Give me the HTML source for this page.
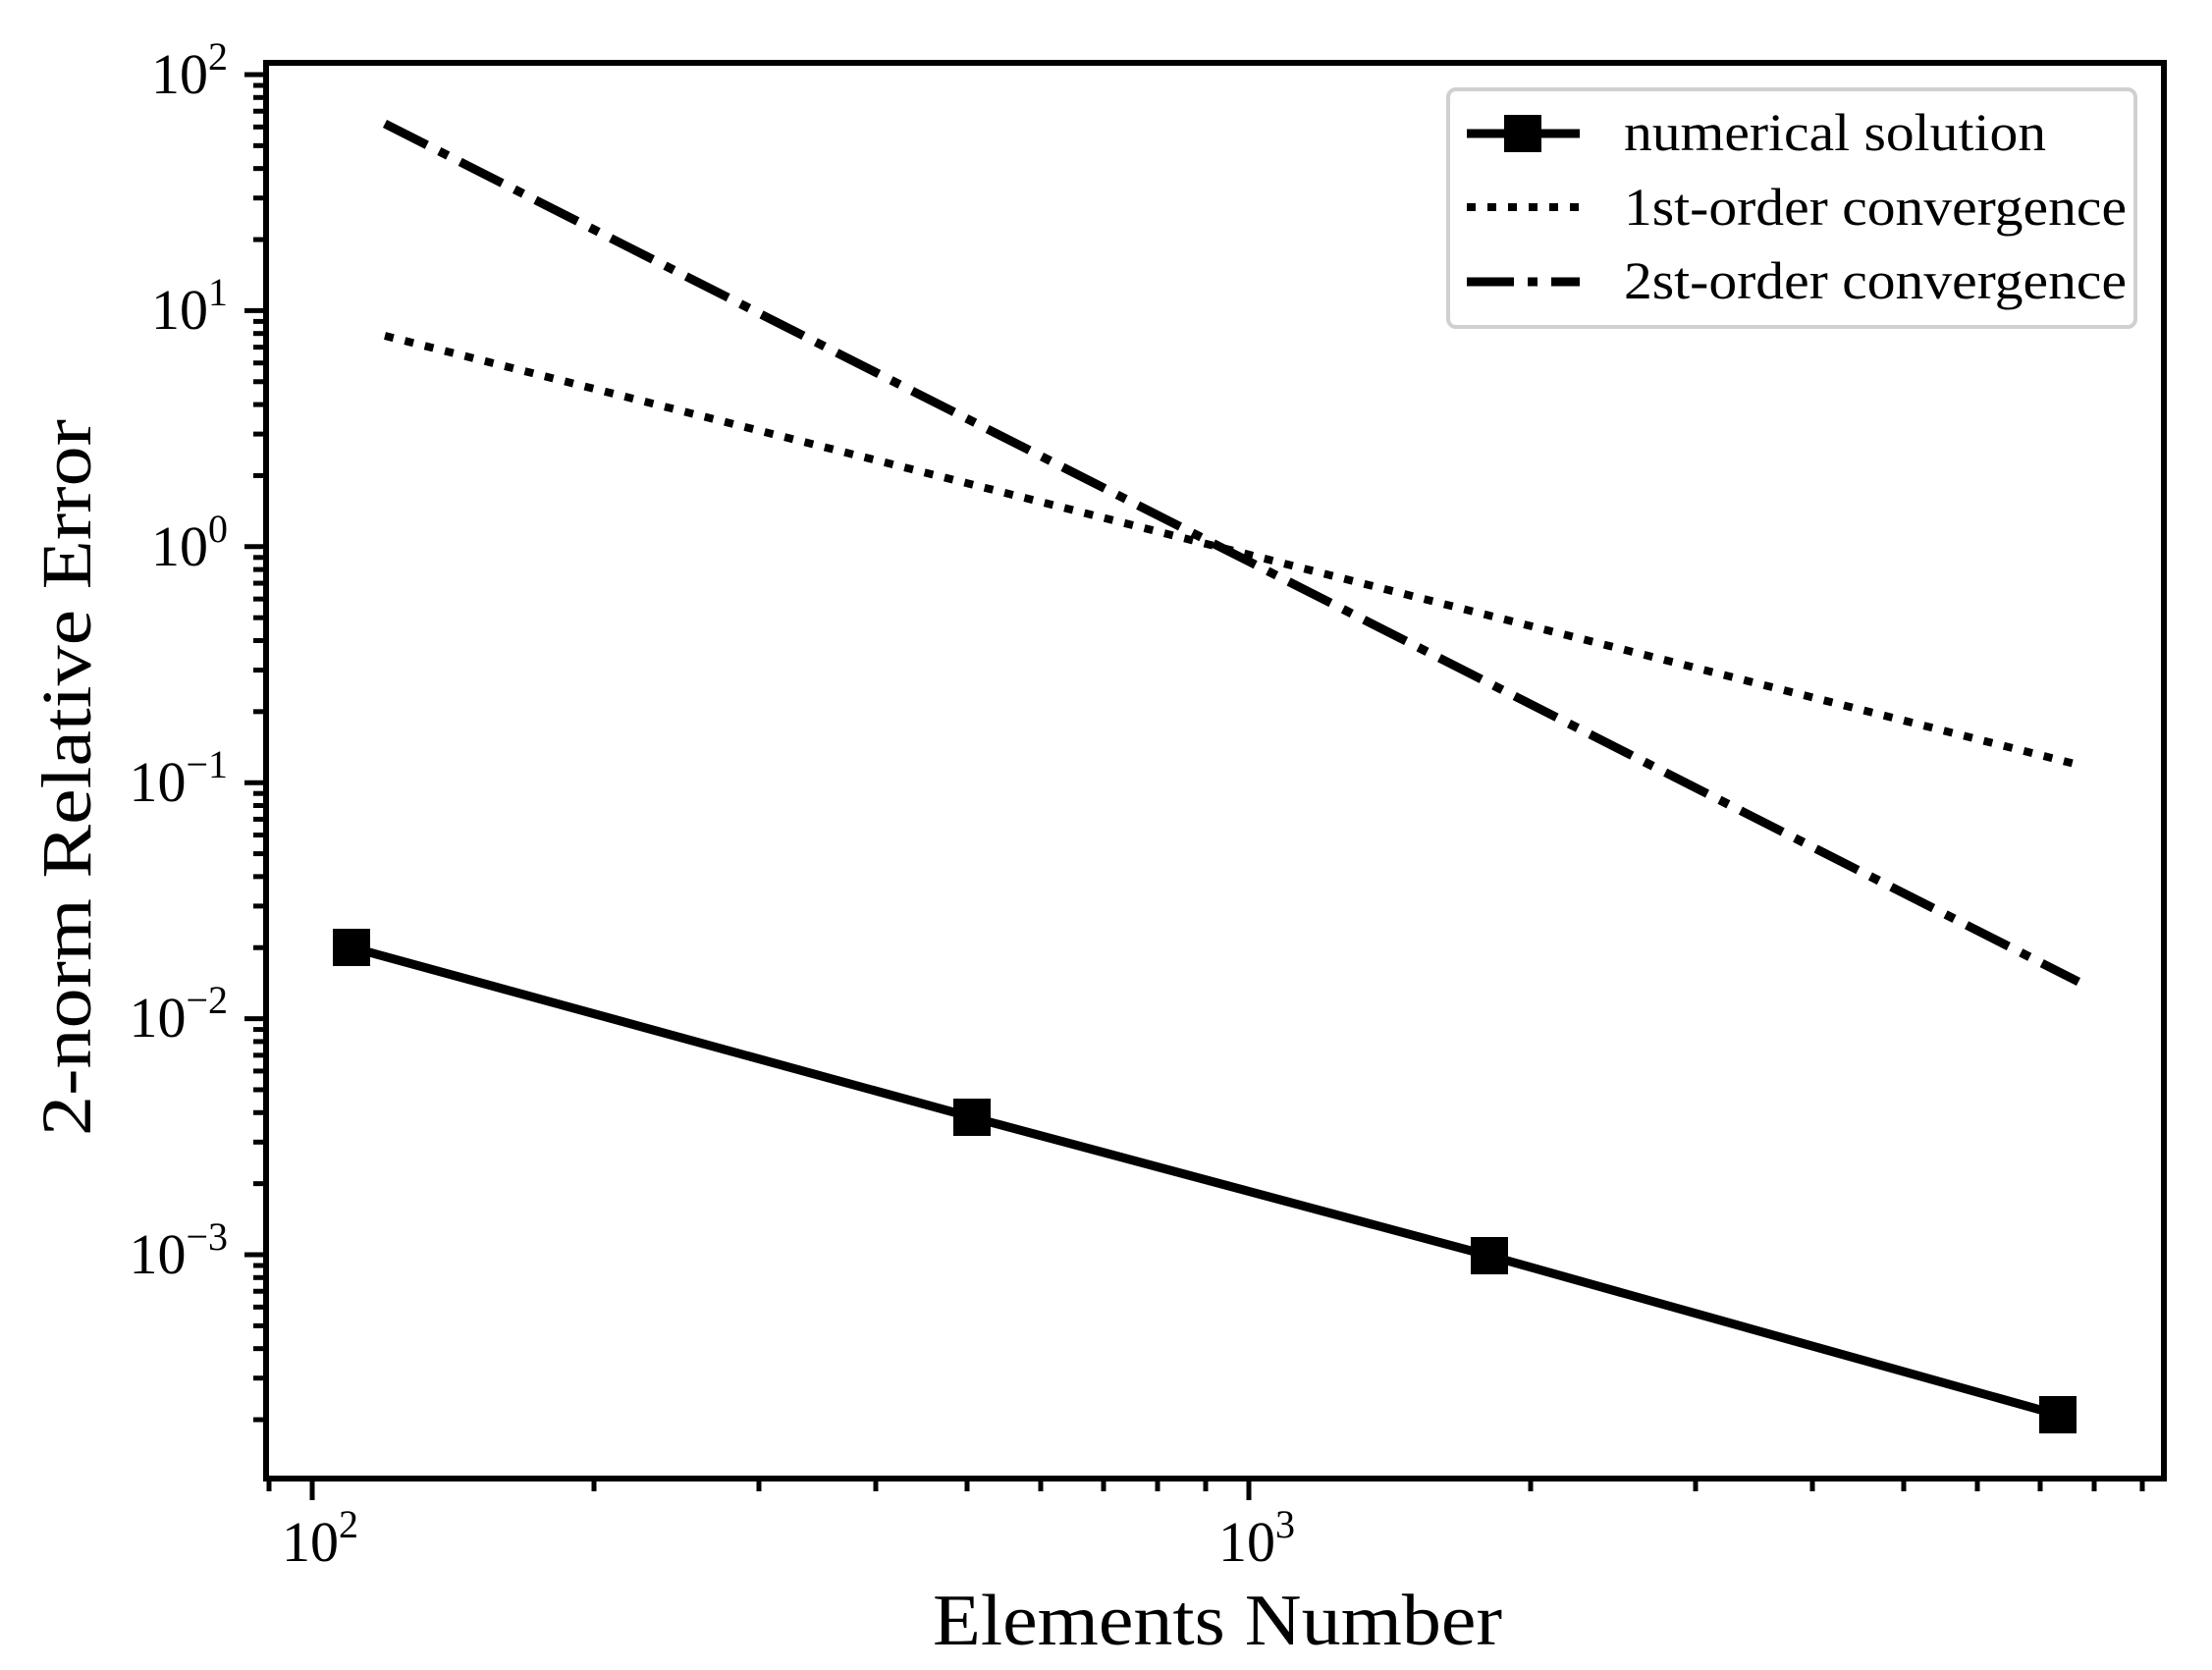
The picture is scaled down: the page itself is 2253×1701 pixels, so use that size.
<!DOCTYPE html>
<html><head><meta charset="utf-8"><style>html,body{margin:0;padding:0;background:#fff}svg{display:block}</style></head>
<body>
<svg width="2253" height="1701" viewBox="0 0 2253 1701" xmlns="http://www.w3.org/2000/svg" font-family="Liberation Serif, serif">
<rect width="2253" height="1701" fill="#fff"/>
<g stroke="#000" stroke-width="5">
<line x1="318" y1="1506" x2="318" y2="1528"/>
<line x1="1272" y1="1506" x2="1272" y2="1528"/>
<line x1="274" y1="1506" x2="274" y2="1519"/>
<line x1="605" y1="1506" x2="605" y2="1519"/>
<line x1="773" y1="1506" x2="773" y2="1519"/>
<line x1="892" y1="1506" x2="892" y2="1519"/>
<line x1="985" y1="1506" x2="985" y2="1519"/>
<line x1="1060" y1="1506" x2="1060" y2="1519"/>
<line x1="1124" y1="1506" x2="1124" y2="1519"/>
<line x1="1179" y1="1506" x2="1179" y2="1519"/>
<line x1="1228" y1="1506" x2="1228" y2="1519"/>
<line x1="1559" y1="1506" x2="1559" y2="1519"/>
<line x1="1727" y1="1506" x2="1727" y2="1519"/>
<line x1="1846" y1="1506" x2="1846" y2="1519"/>
<line x1="1939" y1="1506" x2="1939" y2="1519"/>
<line x1="2014" y1="1506" x2="2014" y2="1519"/>
<line x1="2078" y1="1506" x2="2078" y2="1519"/>
<line x1="2133" y1="1506" x2="2133" y2="1519"/>
<line x1="2182" y1="1506" x2="2182" y2="1519"/>
</g>
<g stroke="#000" stroke-width="5" id="yt"></g>
<script>
(function(){
var g=document.getElementById('yt'),ns='http://www.w3.org/2000/svg';
function ln(y,l){var e=document.createElementNS(ns,'line');e.setAttribute('x1',271-l);e.setAttribute('x2',271);e.setAttribute('y1',y);e.setAttribute('y2',y);g.appendChild(e);}
var y0=76,d=240.4;
for(var k=2;k>=-4;k--){var y=y0+(2-k)*d;if(y<=1506)ln(y,22);
 for(var m=2;m<=9;m++){var yy=y-Math.log10(m)*d;if(yy>64&&yy<1506)ln(yy,13);}}
})();
</script>
<rect x="271" y="64" width="1933" height="1442" fill="none" stroke="#000" stroke-width="6"/>
<g font-size="58" text-anchor="end">
<text x="232" y="95">10<tspan font-size="40" dy="-24">2</tspan></text>
<text x="232" y="335">10<tspan font-size="40" dy="-24">1</tspan></text>
<text x="232" y="576">10<tspan font-size="40" dy="-24">0</tspan></text>
<text x="232" y="816">10<tspan font-size="40" dy="-24">−1</tspan></text>
<text x="232" y="1056">10<tspan font-size="40" dy="-24">−2</tspan></text>
<text x="232" y="1297">10<tspan font-size="40" dy="-24">−3</tspan></text>
</g>
<g font-size="58" text-anchor="middle">
<text x="326" y="1590">10<tspan font-size="40" dy="-24">2</tspan></text>
<text x="1280" y="1590">10<tspan font-size="40" dy="-24">3</tspan></text>
</g>
<text x="1240" y="1675" font-size="74" text-anchor="middle" textLength="580" lengthAdjust="spacingAndGlyphs">Elements Number</text>
<text transform="translate(92,792) rotate(-90)" font-size="72" text-anchor="middle" textLength="730" lengthAdjust="spacingAndGlyphs">2-norm Relative Error</text>
<line x1="392" y1="342" x2="2117" y2="779" stroke="#000" stroke-width="8" stroke-dasharray="9 12"/>
<line x1="392" y1="126" x2="2117" y2="1000" stroke="#000" stroke-width="9" stroke-dasharray="48 14 10 14"/>
<polyline points="358,965 990,1138 1517,1279 2096,1441" fill="none" stroke="#000" stroke-width="9"/>
<g fill="#000">
<rect x="339" y="946" width="38" height="38"/>
<rect x="971" y="1119" width="38" height="38"/>
<rect x="1498" y="1260" width="38" height="38"/>
<rect x="2077" y="1422" width="38" height="38"/>
</g>
<rect x="1475" y="91" width="700" height="242" rx="8" fill="#fff" stroke="#d0d0d0" stroke-width="4"/>
<line x1="1494" y1="136" x2="1609" y2="136" stroke="#000" stroke-width="9"/>
<rect x="1532" y="117" width="38" height="38" fill="#000"/>
<line x1="1494" y1="211" x2="1609" y2="211" stroke="#000" stroke-width="8" stroke-dasharray="9 12"/>
<line x1="1494" y1="287" x2="1609" y2="287" stroke="#000" stroke-width="9" stroke-dasharray="48 14 10 14"/>
<g font-size="54">
<text x="1654" y="153" textLength="430" lengthAdjust="spacingAndGlyphs">numerical solution</text>
<text x="1654" y="229" textLength="512" lengthAdjust="spacingAndGlyphs">1st-order convergence</text>
<text x="1654" y="304" textLength="512" lengthAdjust="spacingAndGlyphs">2st-order convergence</text>
</g>
</svg>
</body></html>
